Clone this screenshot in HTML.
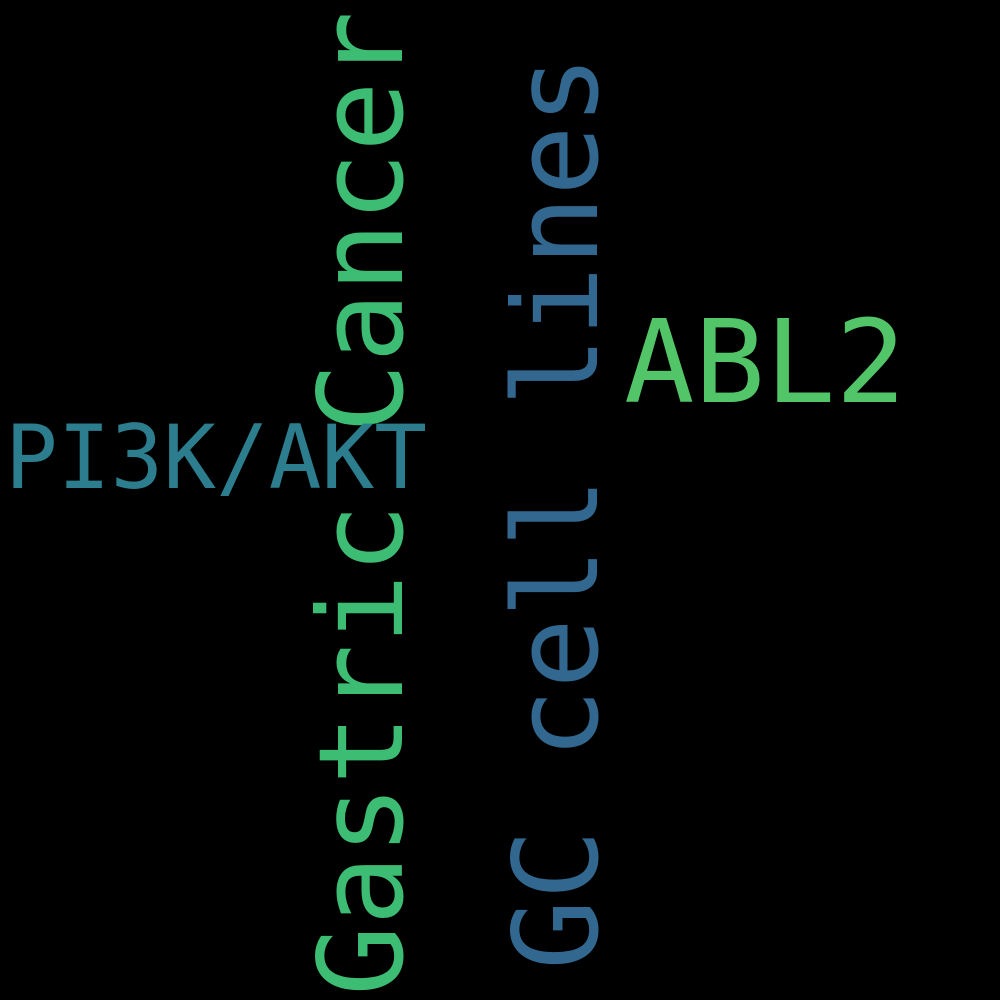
<!DOCTYPE html>
<html><head><meta charset="utf-8"><style>html,body{margin:0;padding:0;background:#000;}svg{display:block}</style></head>
<body>
<svg width="1000" height="1000" viewBox="0 0 1000 1000" xmlns="http://www.w3.org/2000/svg">
<rect width="1000" height="1000" fill="#000"/>
<g font-family="'DejaVu Sans Mono', 'Liberation Mono', monospace">
<text transform="translate(402,996) rotate(-90)" font-size="117" fill="#3dbc74" textLength="985" lengthAdjust="spacingAndGlyphs">Gastric Cancer</text>
<text transform="translate(597,970) rotate(-90)" font-size="117" fill="#32688f" textLength="915" lengthAdjust="spacingAndGlyphs">GC cell lines</text>
<text x="624" y="402" font-size="115" fill="#52c569" textLength="282" lengthAdjust="spacingAndGlyphs">ABL2</text>
<text x="5" y="488" font-size="88" fill="#2c7d8e" textLength="422" lengthAdjust="spacingAndGlyphs">PI3K/AKT</text>
</g>
</svg>
</body></html>
